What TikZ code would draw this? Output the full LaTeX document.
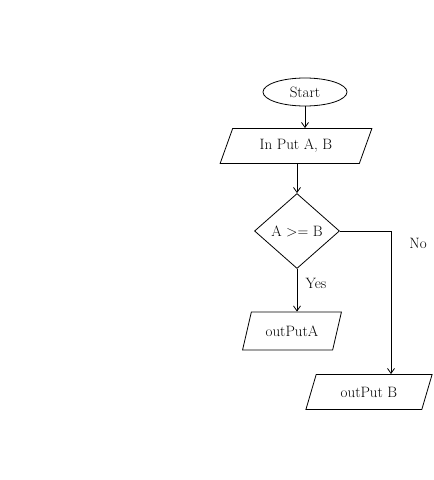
\documentclass[tikz,border=0pt]{standalone}
\usetikzlibrary{shapes.geometric,arrows.meta}
\begin{document}
\begin{tikzpicture}[x=1pt,y=-1pt,
  every node/.style={font=\fontsize{15}{17}\selectfont},
  line/.style={draw=black,line width=0.8pt},
  flow/.style={line,-{Straight Barb[length=5pt,width=7pt]}},
  terminal/.style={line,ellipse,minimum width=84pt,minimum height=28pt,inner sep=0pt},
  io/.style={line,trapezium,trapezium left angle=62,trapezium right angle=118,
    trapezium stretches=true,inner sep=0pt},
  decision/.style={line,diamond,minimum width=85pt,minimum height=75pt,inner sep=0pt}]
  \useasboundingbox (0,0) rectangle (434,480);

  \node[terminal] (start) at (305,92) {Start};
  \node[io,minimum width=152pt,minimum height=35pt] (input) at (296,146) {In Put A, B};
  \node[decision] (cond) at (297,231) {A \textgreater{}= B};
  \node[io,minimum width=99pt,minimum height=38pt] (outa) at (292,331) {outPutA};
  \node[io,minimum width=127pt,minimum height=35pt] (outb) at (369,392) {outPut B};
  \coordinate (bend) at (391,231);

  \draw[flow] (start) -- (start |- input.north);
  \draw[flow] (input.south -| cond.north) -- (cond.north);
  \draw[flow] (cond.south) -- (cond.south |- outa.north);
  \node (yes) at (316,283) {Yes};
  \draw[flow] (cond.east) -- (bend) -- (bend |- outb.north);
  \node (no) at (418,243) {No};
\end{tikzpicture}
\end{document}
